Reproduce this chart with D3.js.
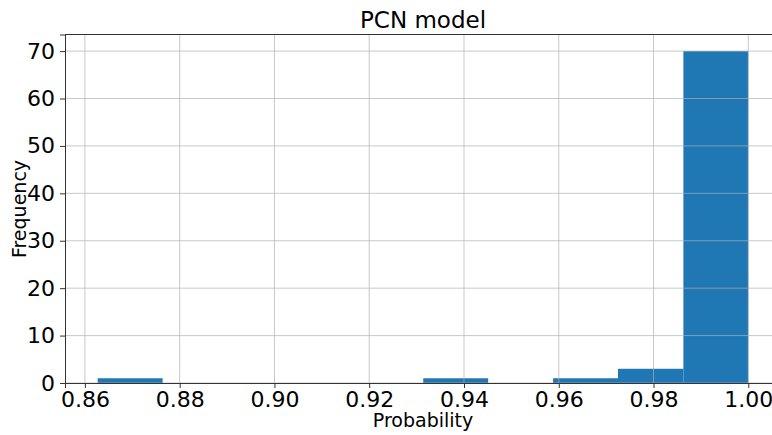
<!DOCTYPE html>
<html>
<head>
<meta charset="utf-8">
<script src="https://cdn.jsdelivr.net/npm/d3@7"></script>
<style>
  body { margin: 0; background: #fff; }
  svg { display: block; font-family: "DejaVu Sans", sans-serif; }
</style>
</head>
<body>
<div id="chart"></div>
<script>
// histogram bins (edges) and counts
const binEdges = [0.8627, 0.8764, 0.8902, 0.9039, 0.9176, 0.9314, 0.9451, 0.9588, 0.9725, 0.9863, 1.0];
const counts = [1, 0, 0, 0, 0, 1, 0, 1, 3, 70];
const xTicks = [0.86, 0.88, 0.90, 0.92, 0.94, 0.96, 0.98, 1.00];
const yTicks = [0, 10, 20, 30, 40, 50, 60, 70];

const W = 772, H = 435;
const margin = { left: 65, right: -9, top: 34.5, bottom: 52 };

const svg = d3.select("#chart").append("svg")
  .attr("width", W).attr("height", H);

const x = d3.scaleLinear().domain([0.8558, 1.0069]).range([margin.left, W - margin.right]);
const y = d3.scaleLinear().domain([0, 73.5]).range([H - margin.bottom, margin.top]);

const bins = counts.map((c, i) => ({ x0: binEdges[i], x1: binEdges[i + 1], n: c }));

// bars
svg.append("g").selectAll("rect")
  .data(bins.filter(d => d.n > 0))
  .enter().append("rect")
  .attr("x", d => x(d.x0))
  .attr("width", d => x(d.x1) - x(d.x0))
  .attr("y", d => y(d.n))
  .attr("height", d => y(0) - y(d.n))
  .attr("fill", "#1f77b4");

// grid on top of bars, like the original
const grid = svg.append("g").attr("stroke", "#b0b0b0").attr("stroke-width", 0.8).attr("opacity", 0.85);
grid.selectAll(".gx").data(xTicks).enter().append("line")
  .attr("x1", d => x(d)).attr("x2", d => x(d))
  .attr("y1", y.range()[0]).attr("y2", y.range()[1]);
grid.selectAll(".gy").data(yTicks).enter().append("line")
  .attr("x1", x.range()[0]).attr("x2", x.range()[1])
  .attr("y1", d => y(d)).attr("y2", d => y(d));

// axes
const xAxis = d3.axisBottom(x).tickValues(xTicks).tickFormat(d3.format(".2f")).tickSizeOuter(0).tickSize(5).tickPadding(3);
const yAxis = d3.axisLeft(y).tickValues(yTicks).tickSizeOuter(0).tickSize(5).tickPadding(5);

const gx = svg.append("g").attr("transform", `translate(0,${y(0)})`).call(xAxis);
const gy = svg.append("g").attr("transform", `translate(${x.range()[0]},0)`).call(yAxis);

[gx, gy].forEach(g => {
  g.selectAll("text").attr("font-size", 22).attr("fill", "#000").attr("font-family", "DejaVu Sans");
  g.selectAll("line").attr("stroke", "#333").attr("stroke-width", 1);
  g.select(".domain").attr("stroke", "#333").attr("stroke-width", 1);
});

// top spine
svg.append("line")
  .attr("x1", x.range()[0]).attr("x2", x.range()[1])
  .attr("y1", y.range()[1]).attr("y2", y.range()[1])
  .attr("stroke", "#333").attr("stroke-width", 1);

// title and labels
svg.append("text").attr("x", 423).attr("y", 27.5)
  .attr("text-anchor", "middle").attr("font-size", 23).text("PCN model");
svg.append("text").attr("x", 423).attr("y", 427)
  .attr("text-anchor", "middle").attr("font-size", 19).text("Probability");
svg.append("text").attr("transform", "translate(26,209) rotate(-90)")
  .attr("text-anchor", "middle").attr("font-size", 19).text("Frequency");
</script>
</body>
</html>
